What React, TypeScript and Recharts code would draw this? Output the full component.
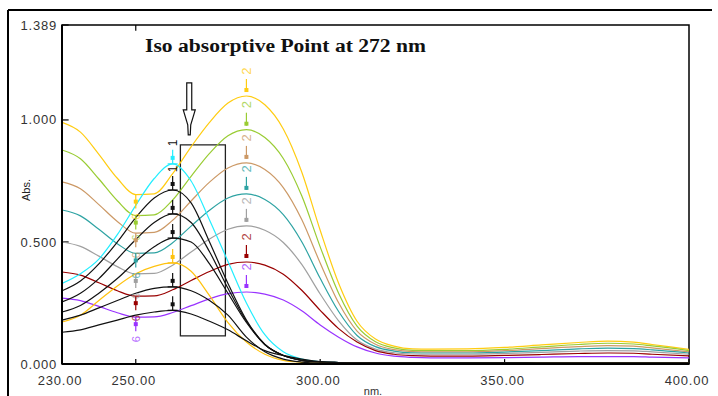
import { LineChart, Line, XAxis, YAxis, ReferenceArea, ReferenceDot, ReferenceLine } from "recharts";

// wavelength grid (nm)
const wavelengths = [230, 235, 240, 245, 250, 255, 260, 265, 270, 275, 280, 285, 290, 295, 300, 305, 310, 315, 320, 325, 330, 340, 350, 360, 370, 378, 385, 390, 400];

// "2" family (absorbance rising towards 280 nm)
const yellow = [0.99, 0.95, 0.859, 0.761, 0.694, 0.697, 0.78, 0.89, 0.99, 1.069, 1.098, 1.062, 0.963, 0.787, 0.548, 0.331, 0.175, 0.102, 0.073, 0.062, 0.061, 0.062, 0.068, 0.078, 0.088, 0.094, 0.09, 0.08, 0.06];
const yellowGreen = [0.877, 0.841, 0.758, 0.669, 0.608, 0.611, 0.672, 0.769, 0.863, 0.935, 0.96, 0.928, 0.842, 0.689, 0.48, 0.29, 0.155, 0.091, 0.066, 0.056, 0.055, 0.055, 0.06, 0.07, 0.08, 0.085, 0.082, 0.074, 0.055];
const tan = [0.746, 0.718, 0.653, 0.584, 0.536, 0.539, 0.589, 0.668, 0.745, 0.803, 0.824, 0.797, 0.723, 0.592, 0.414, 0.251, 0.135, 0.081, 0.059, 0.051, 0.05, 0.05, 0.055, 0.063, 0.071, 0.075, 0.073, 0.066, 0.05];
const teal = [0.631, 0.607, 0.552, 0.493, 0.453, 0.455, 0.497, 0.565, 0.63, 0.68, 0.697, 0.674, 0.612, 0.501, 0.351, 0.215, 0.117, 0.071, 0.053, 0.046, 0.045, 0.045, 0.049, 0.055, 0.062, 0.065, 0.063, 0.058, 0.045];
const gray = [0.5, 0.482, 0.442, 0.399, 0.369, 0.371, 0.405, 0.459, 0.512, 0.552, 0.566, 0.548, 0.498, 0.408, 0.287, 0.177, 0.098, 0.061, 0.046, 0.041, 0.04, 0.04, 0.043, 0.048, 0.053, 0.055, 0.054, 0.05, 0.04];
const darkRed = [0.377, 0.364, 0.333, 0.3, 0.278, 0.279, 0.304, 0.342, 0.379, 0.408, 0.418, 0.405, 0.368, 0.302, 0.22, 0.145, 0.09, 0.055, 0.04, 0.034, 0.032, 0.032, 0.035, 0.039, 0.043, 0.045, 0.044, 0.04, 0.033];
const purple = [0.27, 0.26, 0.236, 0.21, 0.192, 0.193, 0.211, 0.239, 0.267, 0.288, 0.295, 0.286, 0.262, 0.218, 0.16, 0.11, 0.07, 0.045, 0.032, 0.027, 0.025, 0.025, 0.026, 0.028, 0.03, 0.03, 0.03, 0.028, 0.025];

// "1" family (peak near 260 nm)
const cyan = [0.33, 0.37, 0.43, 0.53, 0.65, 0.76, 0.82, 0.75, 0.59, 0.42, 0.25, 0.12, 0.05, 0.02, 0.01, 0.006, 0.004, 0.003, 0.002, 0.002, 0.002, 0.002, 0.002, 0.002, 0.002, 0.002, 0.002, 0.002, 0.002];
const black1 = [0.3, 0.34, 0.41, 0.5, 0.6, 0.68, 0.713, 0.66, 0.5, 0.33, 0.18, 0.08, 0.035, 0.015, 0.008, 0.006, 0.005, 0.005, 0.005, 0.005, 0.005, 0.005, 0.005, 0.004, 0.004, 0.004, 0.004, 0.004, 0.004];
const black2 = [0.254, 0.29, 0.35, 0.43, 0.51, 0.58, 0.615, 0.58, 0.46, 0.31, 0.175, 0.08, 0.035, 0.015, 0.008, 0.006, 0.005, 0.005, 0.005, 0.005, 0.005, 0.005, 0.005, 0.004, 0.004, 0.004, 0.004, 0.004, 0.004];
const black3 = [0.213, 0.24, 0.29, 0.35, 0.42, 0.48, 0.516, 0.5, 0.41, 0.29, 0.17, 0.08, 0.035, 0.015, 0.008, 0.006, 0.005, 0.005, 0.005, 0.005, 0.005, 0.005, 0.005, 0.004, 0.004, 0.004, 0.004, 0.004, 0.004];
const gold = [0.172, 0.2, 0.26, 0.32, 0.37, 0.4, 0.414, 0.38, 0.28, 0.17, 0.09, 0.04, 0.015, 0.007, 0.003, 0.003, 0.003, 0.003, 0.003, 0.003, 0.003, 0.003, 0.003, 0.003, 0.003, 0.003, 0.003, 0.003, 0.003];
const black4 = [0.18, 0.2, 0.23, 0.26, 0.29, 0.31, 0.316, 0.3, 0.26, 0.2, 0.11, 0.05, 0.02, 0.008, 0.004, 0.004, 0.004, 0.004, 0.004, 0.004, 0.004, 0.004, 0.004, 0.004, 0.004, 0.004, 0.004, 0.004, 0.004];
const black5 = [0.13, 0.14, 0.16, 0.18, 0.2, 0.213, 0.22, 0.205, 0.175, 0.14, 0.095, 0.055, 0.035, 0.02, 0.01, 0.006, 0.005, 0.005, 0.005, 0.005, 0.005, 0.005, 0.005, 0.004, 0.004, 0.004, 0.004, 0.004, 0.004];

const xTicks = [230, 250, 300, 350, 400];
const yTicks = [0, 0.5, 1, 1.389];

const family2 = [
  { key: "yellow", values: yellow, color: "#FFCC11" },
  { key: "yellowGreen", values: yellowGreen, color: "#99CC33" },
  { key: "tan", values: tan, color: "#CC9966" },
  { key: "teal", values: teal, color: "#2EA3A3" },
  { key: "gray", values: gray, color: "#A0A0A0" },
  { key: "darkRed", values: darkRed, color: "#990000" },
  { key: "purple", values: purple, color: "#9933FF" },
];

const family1 = [
  { key: "cyan", values: cyan, color: "#22EEFF", label: true },
  { key: "black1", values: black1, color: "#111111", label: true },
  { key: "black2", values: black2, color: "#111111" },
  { key: "black3", values: black3, color: "#111111" },
  { key: "gold", values: gold, color: "#FFC20E" },
  { key: "black4", values: black4, color: "#111111" },
  { key: "black5", values: black5, color: "#111111" },
];

const allSeries = [...family2, ...family1];

const rows = wavelengths.map((nm, i) => {
  const row: Record<string, number> = { nm };
  allSeries.forEach((s) => (row[s.key] = s.values[i]));
  return row;
});

const at = (values: number[], nm: number) => values[wavelengths.indexOf(nm)];

const tickFont = { fontFamily: "'Liberation Sans', Arial, sans-serif", fontSize: 13, fill: "#333", letterSpacing: 0.8 };

const XTick = (props: any) => (
  <text x={props.x - 2} y={props.y} dy="0.71em" textAnchor="middle" {...tickFont}>
    {Number(props.payload.value).toFixed(2)}
  </text>
);

const YTick = (props: any) => (
  <text x={props.x} y={props.y} dy="0.35em" textAnchor="end" {...tickFont}>
    {Number(props.payload.value).toFixed(3)}
  </text>
);

const peakMark = (color: string) => (p: any) => (
  <g>
    <line x1={p.cx} x2={p.cx} y1={p.cy - 17} y2={p.cy - 4} stroke={color} strokeWidth={1.2} />
    <rect x={p.cx - 2} y={p.cy - 8} width={4} height={4} fill={color} />
    <text transform={`translate(${p.cx},${p.cy - 25}) rotate(-90)`} textAnchor="middle" dominantBaseline="central"
      fontFamily="'Liberation Sans', Arial, sans-serif" fontSize={13} fill={color} opacity={0.75}>2</text>
  </g>
);

const minMark = (color: string) => (p: any) => (
  <g>
    <line x1={p.cx} x2={p.cx} y1={p.cy} y2={p.cy + 14} stroke={color} strokeWidth={1.2} />
    <rect x={p.cx - 2} y={p.cy + 5} width={4} height={4} fill={color} />
    <text transform={`translate(${p.cx},${p.cy + 22}) rotate(-90)`} textAnchor="middle" dominantBaseline="central"
      fontFamily="'Liberation Sans', Arial, sans-serif" fontSize={11} fill={color} opacity={0.7}>6</text>
  </g>
);

const blackMark = (color: string, label?: boolean) => (p: any) => (
  <g>
    <line x1={p.cx} x2={p.cx} y1={p.cy - 14} y2={p.cy} stroke={color} strokeWidth={1.2} />
    <rect x={p.cx - 2} y={p.cy - 8} width={4} height={4} fill={color} />
    <line x1={p.cx - 5} x2={p.cx + 5} y1={p.cy} y2={p.cy} stroke={color} strokeWidth={1.2} />
    {label && (
      <text transform={`translate(${p.cx},${p.cy - 21}) rotate(-90)`} textAnchor="middle" dominantBaseline="central"
        fontFamily="'Liberation Sans', Arial, sans-serif" fontSize={12} fill="#111">1</text>
    )}
  </g>
);

const hollowArrow = (p: any) => {
  const { cx, cy } = p;
  const pts = [
    [cx - 2.5, cy], [cx + 2.5, cy], [cx + 2.5, cy + 27], [cx + 6, cy + 27], [cx + 1.5, cy + 42],
    [cx + 1, cy + 52], [cx - 1, cy + 52], [cx - 1.5, cy + 42], [cx - 6, cy + 27], [cx - 2.5, cy + 27],
  ].map((q) => q.join(",")).join(" ");
  return <polygon points={pts} fill="#fff" stroke="#111" strokeWidth={1.2} />;
};

export default function App() {
  return (
    <div style={{ position: "absolute", left: 0, top: 0, width: 718, height: 396, background: "#fff", overflow: "hidden" }}>
      <LineChart width={718} height={396} data={rows} margin={{ top: 25, right: 29, bottom: 0, left: 8 }}>
        <XAxis dataKey="nm" type="number" domain={[230, 400]} ticks={xTicks} allowDataOverflow
          tick={<XTick />} tickLine={false} tickSize={0} tickMargin={12} height={32}
          axisLine={{ stroke: "#000", strokeWidth: 2 }} />
        <YAxis type="number" domain={[0, 1.389]} ticks={yTicks} allowDataOverflow
          tick={<YTick />} tickLine={false} tickSize={0} tickMargin={5} width={54}
          axisLine={{ stroke: "#000", strokeWidth: 2 }} />
        <ReferenceArea x1={230} x2={400} y1={0} y2={1.389} fill="none" stroke="#000" strokeWidth={1.5} />
        {xTicks.map((t) => (
          <ReferenceLine key={"xt" + t} segment={[{ x: t, y: 0 }, { x: t, y: 0.02 }]} stroke="#000" strokeWidth={1.2} />
        ))}
        <ReferenceLine segment={[{ x: 250, y: 1.389 }, { x: 250, y: 1.365 }]} stroke="#000" strokeWidth={1.2} />
        {yTicks.map((t) => (
          <ReferenceLine key={"yt" + t} segment={[{ x: 230, y: t }, { x: 231.8, y: t }]} stroke="#000" strokeWidth={1.2} />
        ))}
        <ReferenceArea x1={262.1} x2={274.3} y1={0.115} y2={0.898} fill="none" stroke="#222" strokeWidth={1.3} />
        {allSeries.map((s) => (
          <Line key={s.key} dataKey={s.key} type="monotone" stroke={s.color} strokeWidth={1.2}
            dot={false} activeDot={false} isAnimationActive={false} />
        ))}
        {family2.map((s) => (
          <ReferenceDot key={"pk" + s.key} x={280} y={at(s.values, 280)} shape={peakMark(s.color)} />
        ))}
        {family2.map((s) => (
          <ReferenceDot key={"mn" + s.key} x={250} y={at(s.values, 250)} shape={minMark(s.color)} />
        ))}
        {family1.map((s) => (
          <ReferenceDot key={"bk" + s.key} x={260} y={at(s.values, 260)} shape={blackMark(s.color, s.label)} />
        ))}
        <ReferenceDot x={264.5} y={1.152} shape={hollowArrow} />
      </LineChart>
      <svg width={718} height={396} style={{ position: "absolute", left: 0, top: 0, pointerEvents: "none" }}>
        <line x1={8} y1={10} x2={712} y2={10} stroke="#000" strokeWidth={2} />
        <line x1={8} y1={10} x2={8} y2={396} stroke="#000" strokeWidth={2} />
        <text x={145} y={52} fontFamily="'Liberation Serif', 'Times New Roman', serif" fontWeight="bold" fontSize={18}
          textLength={281} lengthAdjust="spacingAndGlyphs" fill="#111">
          Iso absorptive Point at 272 nm
        </text>
        <text transform="translate(30,190) rotate(-90)" textAnchor="middle" fontFamily="'Liberation Sans', Arial, sans-serif" fontSize={11} fill="#222">
          Abs.
        </text>
        <text x={373} y={395} textAnchor="middle" fontFamily="'Liberation Sans', Arial, sans-serif" fontSize={11} fill="#333">
          nm.
        </text>
      </svg>
    </div>
  );
}
